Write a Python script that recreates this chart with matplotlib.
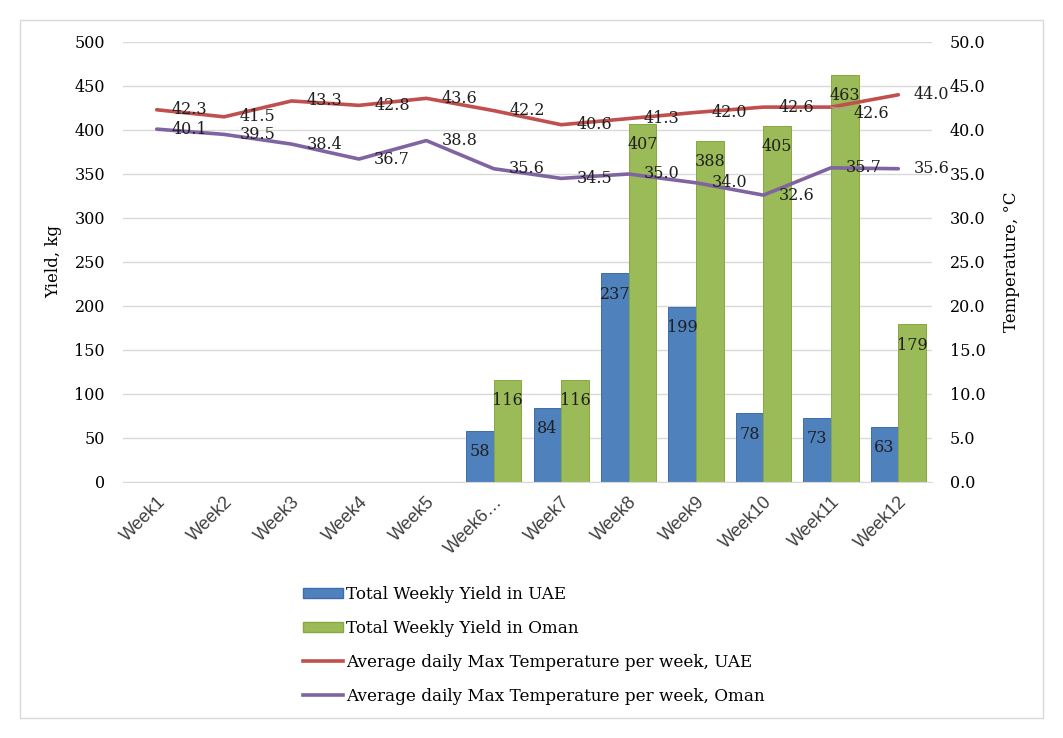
import numpy as np
import matplotlib
matplotlib.use('Agg')
import matplotlib.pyplot as plt
from matplotlib.patches import Rectangle, Patch
from matplotlib.lines import Line2D

plt.rcParams['font.family'] = 'DejaVu Serif'

# Дані з графіка
weeks = ['Week1', 'Week2', 'Week3', 'Week4', 'Week5', 'Week6…',
         'Week7', 'Week8', 'Week9', 'Week10', 'Week11', 'Week12']
yield_uae = [0, 0, 0, 0, 0, 58, 84, 237, 199, 78, 73, 63]
yield_oman = [0, 0, 0, 0, 0, 116, 116, 407, 388, 405, 463, 179]
temp_uae = [42.3, 41.5, 43.3, 42.8, 43.6, 42.2, 40.6, 41.3, 42.0, 42.6, 42.6, 44.0]
temp_oman = [40.1, 39.5, 38.4, 36.7, 38.8, 35.6, 34.5, 35.0, 34.0, 32.6, 35.7, 35.6]

c_blue, c_green = '#4F81BD', '#9BBB59'
c_red, c_purple = '#C0504D', '#8064A2'
grid_c = '#d9d9d9'
txt_c = '#1f1f1f'

fig = plt.figure(figsize=(10.63, 7.38), dpi=100)
ax = fig.add_axes([123 / 1063, 1 - 482 / 738, 809 / 1063, 440 / 738])
ax2 = ax.twinx()

x = np.arange(len(weeks))
w = 0.41
for i in x:
    if yield_uae[i] > 0:
        ax.bar(i - w / 2, yield_uae[i], w, color=c_blue, edgecolor='#3D6DA8', linewidth=0.7)
        ax.annotate(str(yield_uae[i]), (i - w / 2, yield_uae[i]), xytext=(0, -15),
                    textcoords='offset points', ha='center', va='center', fontsize=11.5, color=txt_c)
    if yield_oman[i] > 0:
        ax.bar(i + w / 2, yield_oman[i], w, color=c_green, edgecolor='#86A83F', linewidth=0.7)
        ax.annotate(str(yield_oman[i]), (i + w / 2, yield_oman[i]), xytext=(0, -15),
                    textcoords='offset points', ha='center', va='center', fontsize=11.5, color=txt_c)

ax.set_xlim(-0.5, len(weeks) - 0.5)
ax.set_ylim(0, 500)
ax.set_yticks(np.arange(0, 501, 50))
ax.set_xticks(x)
ax.set_xticklabels(weeks, rotation=45, ha='right', va='top', rotation_mode='anchor',
                   family='Liberation Sans', fontsize=13, color='#404040')
ax.yaxis.grid(True, color=grid_c, linewidth=1)
ax.set_axisbelow(True)
ax.tick_params(axis='both', length=0)
ax.tick_params(axis='y', pad=13, labelsize=11.5)
ax.tick_params(axis='x', pad=8)
for s in ['top', 'left', 'right']:
    ax.spines[s].set_visible(False)
ax.spines['bottom'].set_color(grid_c)
ax.set_ylabel('Yield, kg', fontsize=12)
ax.yaxis.set_label_coords(-0.0754, 0.5)

# лінії температури
ax2.plot(x, temp_uae, color=c_red, linewidth=2.6, solid_capstyle='round')
ax2.plot(x, temp_oman, color=c_purple, linewidth=2.6, solid_capstyle='round')
for i in x:
    if i == 10:
        # мітку Week11 (UAE) зсунуто вниз з виносною лінією, як у оригіналі
        ax2.annotate(f'{temp_uae[i]:.1f}', (i, temp_uae[i]), xytext=(16, -4.5), textcoords='offset points',
                     ha='left', va='center', fontsize=11.5, color=txt_c,
                     arrowprops=dict(arrowstyle='-', color='#a6a6a6', linewidth=0.8, shrinkA=0, shrinkB=0))
    else:
        ax2.annotate(f'{temp_uae[i]:.1f}', (i, temp_uae[i]), xytext=(11, 0), textcoords='offset points',
                     ha='left', va='center', fontsize=11.5, color=txt_c)
    ax2.annotate(f'{temp_oman[i]:.1f}', (i, temp_oman[i]), xytext=(11, 0), textcoords='offset points',
                 ha='left', va='center', fontsize=11.5, color=txt_c)
ax2.set_ylim(0, 50)
ax2.set_yticks(np.arange(0, 50.1, 5))
ax2.set_yticklabels([f'{v:.1f}' for v in np.arange(0, 50.1, 5)])
ax2.tick_params(axis='y', length=0, pad=13, labelsize=11.5)
for s in ['top', 'left', 'right', 'bottom']:
    ax2.spines[s].set_visible(False)
ax2.set_ylabel('Temperature, °C', fontsize=12)
ax2.yaxis.set_label_coords(1.0878, 0.5)

handles = [Patch(facecolor=c_blue, edgecolor='#3D6DA8'),
           Patch(facecolor=c_green, edgecolor='#86A83F'),
           Line2D([], [], color=c_red, linewidth=2.6),
           Line2D([], [], color=c_purple, linewidth=2.6)]
labels = ['Total Weekly Yield in UAE', 'Total Weekly Yield in Oman',
          'Average daily Max Temperature per week, UAE',
          'Average daily Max Temperature per week, Oman']
fig.legend(handles, labels, loc='upper left', bbox_to_anchor=(288 / 1063, 1 - 571 / 738),
           frameon=False, fontsize=12.1, labelspacing=1.0, handlelength=2.4,
           handletextpad=0.15, handleheight=0.55)

fig.patches.append(Rectangle((20 / 1063, 1 - 718 / 738), 1023 / 1063, 698 / 738,
                             transform=fig.transFigure, fill=False, edgecolor=grid_c, linewidth=1))

fig.savefig('out.png', dpi=100)
